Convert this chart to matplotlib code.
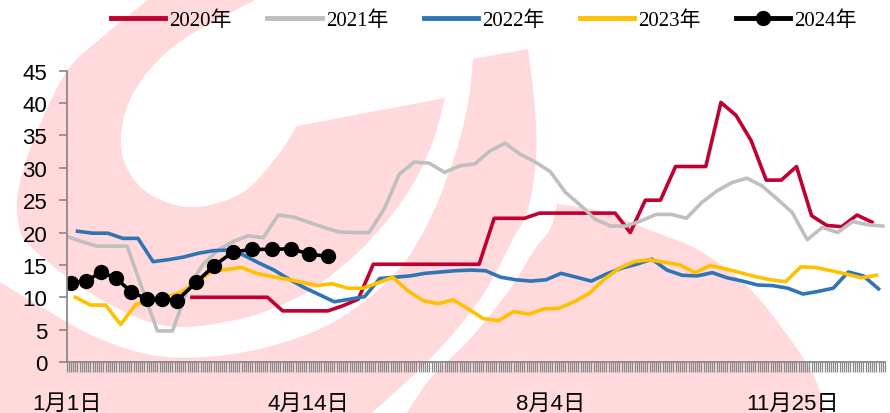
import matplotlib.pyplot as plt
import numpy as np
from matplotlib.patches import Polygon
from matplotlib.ticker import MultipleLocator, FixedLocator


# weekly series, x = day offset from 1月1日
start_2020 = 58
v2020 = [10, 10, 10, 10, 10, 10, 7.9, 7.9, 7.9, 7.9, 8.7, 9.7,
         15.1, 15.1, 15.1, 15.1, 15.1, 15.1, 15.1, 15.1,
         22.2, 22.2, 22.2, 23, 23, 23, 23, 23, 23, 20.0, 25, 25,
         30.2, 30.2, 30.2, 40.1, 38.1, 34.2, 28.1, 28.1, 30.2,
         22.6, 21.1, 20.9, 22.7, 21.6]

start_2021 = 0
v2021 = [19.4, 18.6, 17.9, 17.9, 17.9, 11.3, 4.8, 4.8, 11.3, 15.0,
         17.3, 18.6, 19.5, 19.2, 22.7, 22.4, 21.6, 20.8, 20.1, 20.0,
         20.0, 23.6, 29.0, 30.9, 30.7, 29.3, 30.3, 30.6, 32.6, 33.8,
         32.1, 30.9, 29.4, 26.2, 24.2, 22.0, 21.0, 21.0, 21.8, 22.8,
         22.8, 22.2, 24.6, 26.4, 27.7, 28.4, 27.2, 25.2, 23.1, 18.9,
         20.8, 20.0, 21.7, 21.2, 21.0]

start_2022 = 5
v2022 = [20.2, 19.9, 19.9, 19.1, 19.1, 15.5, 15.8, 16.2, 16.8, 17.2,
         17.3, 16.5, 15.3, 14.2, 12.8, 11.5, 10.4, 9.3, 9.7, 10.1,
         12.9, 13.1, 13.3, 13.7, 13.9, 14.1, 14.2, 14.1, 13.1, 12.7,
         12.5, 12.7, 13.7, 13.1, 12.5, 13.6, 14.5, 15.1, 15.9, 14.2,
         13.4, 13.3, 13.8, 13.0, 12.5, 11.9, 11.8, 11.4, 10.5, 10.9,
         11.4, 13.9, 13.3, 11.3]

start_2023 = 4
v2023 = [10.0, 8.8, 8.8, 5.8, 8.9, 9.5, 10.0, 10.8, 12.3, 14.0,
         14.3, 14.6, 13.7, 13.2, 12.8, 12.3, 11.8, 12.1, 11.4, 11.4,
         12.2, 13.1, 11.0, 9.5, 9.0, 9.6, 8.2, 6.7, 6.4, 7.8,
         7.4, 8.2, 8.3, 9.3, 10.6, 12.8, 14.5, 15.5, 15.8, 15.4,
         15.0, 13.8, 14.9, 14.4, 13.8, 13.2, 12.7, 12.4, 14.7, 14.6,
         14.1, 13.6, 13.0, 13.4]

d2024 = [2, 9, 16, 23, 30, 37, 44, 51, 60, 68, 77, 86, 95, 104, 112, 121]
v2024 = [12.2, 12.5, 13.9, 12.9, 10.8, 9.8, 9.8, 9.5, 12.3, 14.8, 17.0,
         17.4, 17.4, 17.5, 16.7, 16.3]

tick_days = [0, 112, 224, 336]
tick_labels = ["1月1日", "4月14日", "8月4日", "11月25日"]


def weekly(start, vals):
    return start + 7 * np.arange(len(vals))


def smooth(pts, n=12):
    # Catmull-Rom through the given points
    p = np.array(pts, float)
    p = np.vstack([p[0], p, p[-1]])
    t = np.linspace(0, 1, n, endpoint=False)[:, None]
    out = []
    for i in range(1, len(p) - 2):
        p0, p1, p2, p3 = p[i - 1], p[i], p[i + 1], p[i + 2]
        out.append(0.5 * (2 * p1 + (p2 - p0) * t
                          + (2 * p0 - 5 * p1 + 4 * p2 - p3) * t ** 2
                          + (3 * p1 - p0 - 3 * p2 + p3) * t ** 3))
    out.append(p[-2][None])
    return np.vstack(out)


fig = plt.figure(figsize=(8.9, 4.14), dpi=100)

# pale logo watermark behind the chart (pixel units, y downwards)
pink = '#FFD9DC'
bg = fig.add_axes([0, 0, 1, 1], zorder=0)
bg.set_xlim(0, 890)
bg.set_ylim(414, 0)
bg.axis('off')

ring_outer = smooth([(149, 0), (100, 40), (67, 72), (38, 130), (20, 183), (18, 222),
                     (33, 250), (100, 300), (167, 327), (240, 320), (300, 297),
                     (345, 265), (380, 230), (410, 190), (432, 145), (445, 99)])
ring_inner = smooth([(297, 127), (275, 160), (240, 195), (190, 208), (145, 192),
                     (122, 155), (127, 108), (152, 68), (190, 36), (257, 0)])
bg.add_patch(Polygon(np.vstack([ring_outer, ring_inner, [(257, -5), (149, -5)]]),
                     fc=pink, ec='none'))

band_inner = smooth([(473, 60), (467, 110), (452, 165), (425, 230), (390, 280),
                     (330, 325), (250, 352), (167, 358), (100, 340), (40, 307), (-5, 280)])
band_outer = smooth([(365, 420), (430, 360), (480, 300), (513, 240), (528, 210),
                     (536, 160), (535, 110), (528, 50)])
bg.add_patch(Polygon(np.vstack([band_inner, [(-5, 420)], band_outer]), fc=pink, ec='none'))

arc_top = smooth([(557, 205), (600, 212), (647, 230), (700, 252), (750, 290),
                  (790, 340), (815, 380), (827, 420)])
arc_left = smooth([(403, 420), (430, 380), (470, 340), (510, 290), (535, 250),
                   (550, 230), (557, 205)])
bg.add_patch(Polygon(np.vstack([arc_top, arc_left]), fc=pink, ec='none'))

ax = fig.add_axes([66.7 / 890, 1 - 363 / 414, (885 - 66.7) / 890, (363 - 71.7) / 414],
                  zorder=1)
ax.patch.set_alpha(0)

lw = 2.6
ax.plot(weekly(start_2020, v2020), v2020, color='#C00030', lw=lw, label='2020年')
ax.plot(weekly(start_2021, v2021), v2021, color='#BFBFBF', lw=lw, label='2021年')
ax.plot(weekly(start_2022, v2022), v2022, color='#2E75B6', lw=lw, label='2022年')
ax.plot(weekly(start_2023, v2023), v2023, color='#FFC000', lw=lw, label='2023年')
ax.plot(d2024, v2024, color='black', lw=lw, marker='o', ms=10, label='2024年')

ax.set_xlim(0, 379)
ax.set_ylim(0, 45)
ax.yaxis.set_major_locator(MultipleLocator(5))
ax.xaxis.set_major_locator(FixedLocator(tick_days))
ax.xaxis.set_minor_locator(MultipleLocator(1))
ax.set_xticklabels(tick_labels, family=['Liberation Sans', 'Noto Sans CJK SC'], fontsize=16)
for lab in ax.get_yticklabels():
    lab.set_family('Liberation Sans')
    lab.set_fontsize(16)

for s in ['top', 'right']:
    ax.spines[s].set_visible(False)
for s in ['left', 'bottom']:
    ax.spines[s].set_color('#898989')
    ax.spines[s].set_linewidth(1.3)
ax.tick_params(axis='y', length=6, width=1.2, color='#898989', pad=8)
ax.tick_params(axis='x', which='both', length=7, width=0.9, color='#898989', pad=15)

leg = fig.legend(loc='center', bbox_to_anchor=(484 / 890, 1 - 21 / 414), ncol=5, frameon=False,
                 prop={'family': ['Liberation Serif', 'Noto Sans CJK SC'], 'size': 15},
                 handlelength=2.6, handletextpad=0.2, columnspacing=1.7)
for h in leg.legend_handles:
    h.set_linewidth(3.5)

fig.savefig('out.png', dpi=100)
